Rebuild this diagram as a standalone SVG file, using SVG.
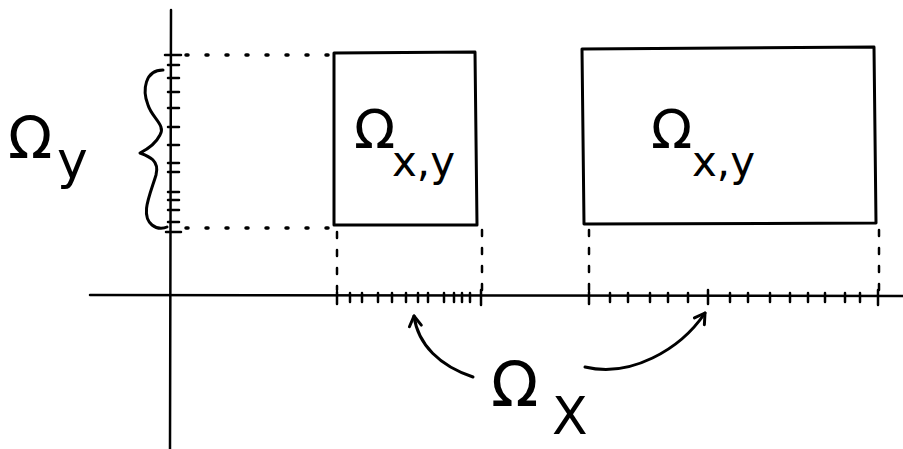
<svg xmlns="http://www.w3.org/2000/svg" width="903" height="449" viewBox="0 0 903 449">
<defs>
<style>
.ln{stroke:#000;stroke-width:3;fill:none;stroke-linecap:round;stroke-linejoin:round}
.ax{stroke:#000;stroke-width:2.5;fill:none;stroke-linecap:round}
.tk{stroke:#000;stroke-width:2.5;stroke-linecap:round}
.dot{stroke:#000;stroke-width:3.5;fill:none;stroke-linecap:round;stroke-dasharray:2 18}
.dash{stroke:#000;stroke-width:2.5;fill:none;stroke-linecap:round;stroke-dasharray:6 12}
.t{font-family:"DejaVu Sans","Liberation Sans",sans-serif;fill:#000}
</style>
<marker id="ah" viewBox="0 0 16 16" refX="12" refY="8" markerWidth="16" markerHeight="16" markerUnits="userSpaceOnUse" orient="auto">
<path d="M2,2 L12,8 L2,14" fill="none" stroke="#000" stroke-width="3" stroke-linecap="round" stroke-linejoin="round"/>
</marker>
</defs>
<rect width="903" height="449" fill="#fff"/>
<g id="axes">
<path class="ax" d="M171,10 L170,449"/>
<path class="ax" d="M90,295 L903,296"/>
<g id="yticks">
<path class="tk" d="M165,55 H181 M168,65 H179 M168,78 H179 M168,92 H179 M168,108 H179 M168,127 H179 M168,145 H179 M168,163 H179 M168,172 H179 M168,192 H179 M168,200 H179 M168,210 H179 M168,222 H179 M166,232 H181"/>
</g>
<g id="xticks">
<path class="tk" d="M337,292 V304 M350,293 V302 M362,293 V302 M378,293 V302 M392,293 V302 M406,293 V302 M418,293 V302 M428,293 V302 M444,293 V302 M454,293 V302 M462,293 V302 M470,293 V302 M481,290 V305"/>
<path class="tk" d="M589,292 V304 M610,293 V302 M628,293 V302 M650,293 V302 M668,293 V302 M688,293 V302 M708,290 V304 M730,293 V302 M748,293 V302 M770,293 V302 M790,293 V302 M808,293 V302 M825,293 V302 M845,293 V302 M860,293 V302 M878,290 V305"/>
</g>
</g>
<g id="projections">
<path class="dot" d="M186,55 L330,55"/>
<path class="dot" d="M186,228 L330,228"/>
<path class="dash" d="M337,232 L337,290"/>
<path class="dash" d="M482,230 L482,290"/>
<path class="dash" d="M589,230 L589,290"/>
<path class="dash" d="M879,230 L879,290"/>
</g>
<g id="box-left">
<path class="ln" d="M334,53 L475,52 L477,225 L334,225 Z"/>
<text class="t" x="354" y="148" font-size="54">Ω</text>
<text class="t" x="392" y="176" font-size="42">x,y</text>
</g>
<g id="box-right">
<path class="ln" d="M582,49 L874,47 L876,223 L584,224 Z"/>
<text class="t" x="651" y="148" font-size="54">Ω</text>
<text class="t" x="692" y="176" font-size="42">x,y</text>
</g>
<g id="label-omega-y">
<path class="ln" d="M163,70 C145,70 142,90 148,105 C152,118 166,125 160,135 C155,145 146,150 140,153 C148,156 160,160 156,175 C150,195 140,215 152,225 C158,230 165,228 167,227"/>
<text class="t" x="8" y="158" font-size="58">Ω</text>
<text class="t" x="57" y="178" font-size="52">y</text>
</g>
<g id="label-omega-x">
<text class="t" x="491" y="406" font-size="62">Ω</text>
<text class="t" x="552" y="434" font-size="52">X</text>
</g>
<g id="connectors">
<path class="ln" d="M473,377 C440,366 418,345 414,316" marker-end="url(#ah)"/>
<path class="ln" d="M585,367 C630,378 680,350 705,313" marker-end="url(#ah)"/>
</g>
</svg>
